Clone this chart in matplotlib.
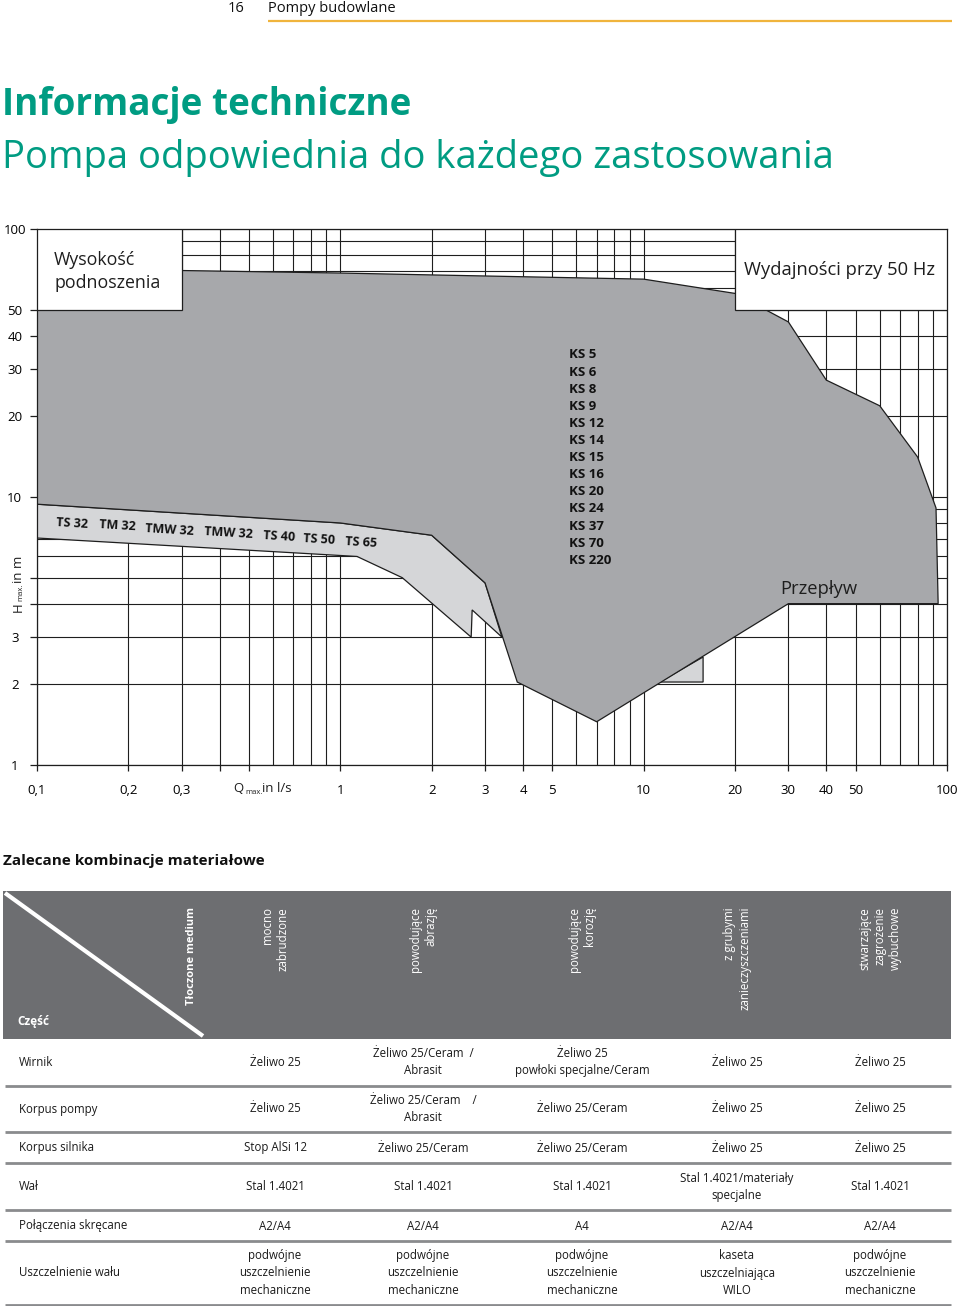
import matplotlib
matplotlib.use("Agg")
import matplotlib.pyplot as plt
from matplotlib.patches import Rectangle

W, H = 960, 1306
plt.rcParams["font.family"] = ["Open Sans", "DejaVu Sans"]

GREEN = "#009C82"
ORANGE = "#F0B43C"
DARK = "#A7A8AB"
LIGHT = "#D5D6D8"
HEAD = "#6D6E71"
INK = "#1E1E1E"
SEP = "#8A8B8D"

# ── chart data: Q [l/s] vs H [m], log-log ─────────────────────
ks_q = [0.1, 0.3, 1, 2, 10, 20, 30, 40, 60, 80, 92, 93.5, 30, 7, 3.83, 3.0, 2.0, 1.0, 0.1]
ks_h = [70, 70, 68.5, 67.4, 65, 57.5, 45, 27.3, 21.9, 14.1, 9.1, 4.0, 4.0, 1.45, 2.04, 4.78, 7.2, 8.0, 9.4]

ts_q = [0.1, 1, 2, 3.0, 3.41, 2.72, 2.70, 1.6, 1.135, 0.1]
ts_h = [9.4, 8.0, 7.2, 4.78, 3.0, 3.79, 3.0, 5.0, 6.0, 7.03]

tri_q = [11.3, 15.7, 15.7]
tri_h = [2.04, 2.53, 2.04]

x_major = [0.1, 0.2, 0.3, 0.4, 0.5, 1, 2, 3, 4, 5, 10, 20, 30, 40, 50, 100]
x_labels = ["0,1", "0,2", "0,3", "", "", "1", "2", "3", "4", "5", "10", "20", "30", "40", "50", "100"]
x_minor = [0.6, 0.7, 0.8, 0.9, 6, 7, 8, 9, 60, 70, 80, 90]
y_major = [1, 2, 3, 4, 5, 10, 20, 30, 40, 50, 100]
y_labels = ["1", "2", "3", "", "", "10", "20", "30", "40", "50", "100"]
y_minor = [6, 7, 8, 9, 60, 70, 80, 90]

ts_names = ["TS 32", "TM 32", "TMW 32", "TMW 32", "TS 40", "TS 50", "TS 65"]
ks_names = ["KS 5", "KS 6", "KS 8", "KS 9", "KS 12", "KS 14", "KS 15", "KS 16",
            "KS 20", "KS 24", "KS 37", "KS 70", "KS 220"]

# ── table data ────────────────────────────────────────────────
row_labels = ["Wirnik", "Korpus pompy", "Korpus silnika", "Wał",
              "Połączenia skręcane", "Uszczelnienie wału"]
col_heads = ["mocno\nzabrudzone", "powodujące\nabrazję", "powodujące\nkorozję",
             "z grubymi\nzanieczyszczeniami", "stwarzające\nzagrożenie\nwybuchowe"]
seal = "podwójne\nuszczelnienie\nmechaniczne"
col_mocno = ["Żeliwo 25", "Żeliwo 25", "Stop AlSi 12", "Stal 1.4021", "A2/A4", seal]
col_abraz = ["Żeliwo 25/Ceram  /\nAbrasit", "Żeliwo 25/Ceram    /\nAbrasit",
             "Żeliwo 25/Ceram", "Stal 1.4021", "A2/A4", seal]
col_koroz = ["Żeliwo 25\npowłoki specjalne/Ceram", "Żeliwo 25/Ceram", "Żeliwo 25/Ceram",
             "Stal 1.4021", "A4", seal]
col_grub = ["Żeliwo 25", "Żeliwo 25", "Żeliwo 25", "Stal 1.4021/materiały\nspecjalne",
            "A2/A4", "kaseta\nuszczelniająca\nWILO"]
col_wyb = ["Żeliwo 25", "Żeliwo 25", "Żeliwo 25", "Stal 1.4021", "A2/A4", seal]
columns = [col_mocno, col_abraz, col_koroz, col_grub, col_wyb]

fig = plt.figure(figsize=(W / 100, H / 100), dpi=100)
fig.patch.set_facecolor("white")

# ── chart ─────────────────────────────────────────────────────
ax = fig.add_axes([37 / W, 1 - 765 / H, (947 - 37) / W, (765 - 229) / H])
ax.set_xscale("log")
ax.set_yscale("log")
ax.set_xlim(0.1, 100)
ax.set_ylim(1, 100)
ax.set_axisbelow(True)

ax.set_xticks(x_major)
ax.set_xticklabels(x_labels)
ax.set_xticks(x_minor, minor=True)
ax.set_yticks(y_major)
ax.set_yticklabels(y_labels)
ax.set_yticks(y_minor, minor=True)
ax.tick_params(which="major", axis="x", length=4, width=0.9, color=INK,
               pad=14, labelsize=9.5)
ax.tick_params(which="major", axis="y", length=5, width=0.9, color=INK,
               pad=11, labelsize=9.5)
ax.tick_params(which="minor", length=0)
for lbl in ax.get_yticklabels():
    lbl.set_horizontalalignment("center")
for lbl in ax.get_xticklabels():
    lbl.set_verticalalignment("center")
ax.grid(True, which="both", color=INK, lw=0.8)
for sp in ax.spines.values():
    sp.set_color(INK)
    sp.set_linewidth(0.9)

ax.fill(ts_q, ts_h, facecolor=LIGHT, edgecolor=INK, lw=0.9, zorder=2)
ax.fill(tri_q, tri_h, facecolor=LIGHT, edgecolor=INK, lw=0.9, zorder=2)
ax.fill(ks_q, ks_h, facecolor=DARK, edgecolor=INK, lw=0.9, zorder=2.1)

# label boxes
ax.fill([0.1, 0.3, 0.3, 0.1], [50, 50, 100, 100], facecolor="white", edgecolor=INK, lw=0.9, zorder=3)
ax.fill([20, 100, 100, 20], [50, 50, 100, 100], facecolor="white", edgecolor=INK, lw=0.9, zorder=3)

# ── overlay in pixel coordinates ──────────────────────────────
ov = fig.add_axes([0, 0, 1, 1])
ov.set_xlim(0, W)
ov.set_ylim(H, 0)
ov.axis("off")

ov.text(54, 260, "Wysokość", fontsize=12.8, ha="left", va="center", color=INK)
ov.text(54, 283, "podnoszenia", fontsize=12.8, ha="left", va="center", color=INK)
ov.text(744, 270, "Wydajności przy 50 Hz", fontsize=13.2, ha="left", va="center", color=INK)
ov.text(780, 589, "Przepływ", fontsize=13.2, ha="left", va="center", color=INK)

ts_x = [72, 117, 169, 228, 279, 319, 361]
ts_y = [523, 526, 530, 533, 536, 539, 542]
for name, x, y in zip(ts_names, ts_x, ts_y):
    ov.text(x, y, name, fontsize=9, fontweight="bold", ha="center", va="center",
            rotation=-3.5, color="#111111")
for i, name in enumerate(ks_names):
    ov.text(569, 355 + i * 17.1, name, fontsize=9.5, fontweight="bold",
            ha="left", va="center", color="#111111")

# axis titles
ov.text(233, 789, "Q", fontsize=9.5, ha="left", va="center", color=INK)
ov.text(245, 792, "max.", fontsize=5.5, ha="left", va="center", color=INK)
ov.text(262, 789, "in l/s", fontsize=9.5, ha="left", va="center", color=INK)
ov.text(18, 612, "H", fontsize=9.5, rotation=90, ha="center", va="bottom", color=INK)
ov.text(21, 601, "max.", fontsize=5.5, rotation=90, ha="center", va="bottom", color=INK)
ov.text(18, 583, "in m", fontsize=9.5, rotation=90, ha="center", va="bottom", color=INK)

# ── page header and titles ────────────────────────────────────
ov.text(236, 9, "16", fontsize=10.5, ha="center", va="center", color="#111111")
ov.text(268, 9, "Pompy budowlane", fontsize=10.5, ha="left", va="center", color="#111111")
ov.plot([268, 952], [21, 21], color=ORANGE, lw=1.6, solid_capstyle="butt")
ov.text(2, 105, "Informacje techniczne", fontsize=26.6, fontweight="bold",
        ha="left", va="center", color=GREEN)
ov.text(2, 158, "Pompa odpowiednia do każdego zastosowania", fontsize=27.5,
        ha="left", va="center", color=GREEN)
ov.text(3, 861, "Zalecane kombinacje materiałowe", fontsize=11, fontweight="bold",
        ha="left", va="center", color="#111111")

# ── table ─────────────────────────────────────────────────────
ov.add_patch(Rectangle((3, 891), 948, 148, facecolor=HEAD, edgecolor="none"))
ov.plot([5, 203], [893, 1036], color="white", lw=3, solid_capstyle="butt")
ov.text(17, 1021, "Część", fontsize=8.5, fontweight="bold", ha="left", va="center", color="white")
ov.text(191, 907, "Tłoczone medium", fontsize=8, fontweight="bold", rotation=90,
        ha="center", va="top", color="white")

col_x = [275, 423, 582, 737, 880]
for head, x in zip(col_heads, col_x):
    ov.text(x, 907, head, fontsize=8.3, rotation=90, ha="center", va="top",
            multialignment="right", color="white", linespacing=1.25)

row_y = [1062, 1109, 1148, 1187, 1226, 1273]
sep_y = [1086, 1132, 1163, 1210, 1241, 1305]
for lab, y in zip(row_labels, row_y):
    ov.text(19, y, lab, fontsize=8.3, ha="left", va="center", color="#1a1a1a")
for col, x in zip(columns, col_x):
    for val, y in zip(col, row_y):
        ov.text(x, y, val, fontsize=8.3, ha="center", va="center", color="#1a1a1a",
                linespacing=1.45)
for y in sep_y:
    ov.plot([5, 951], [y, y], color=SEP, lw=2, solid_capstyle="butt")

fig.savefig("out.png", dpi=100)
